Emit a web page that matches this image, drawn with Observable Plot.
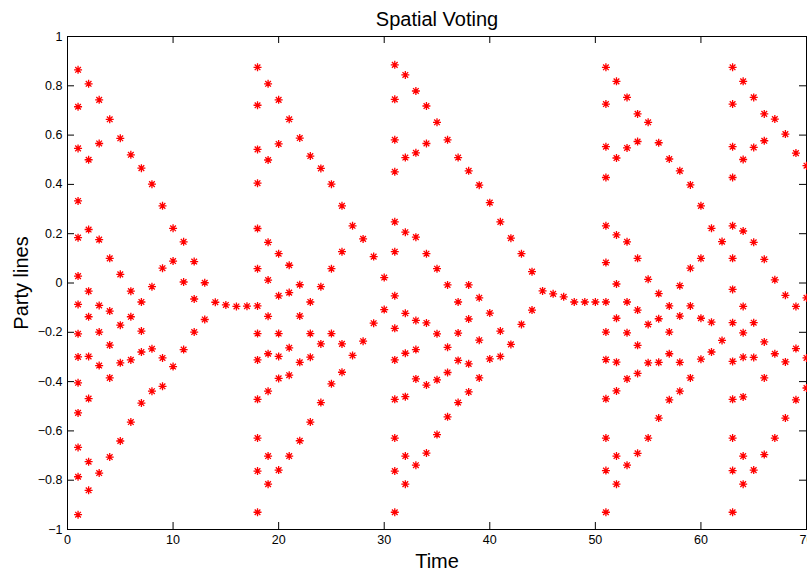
<!DOCTYPE html>
<html>
<head>
<meta charset="utf-8">
<script src="https://cdn.jsdelivr.net/npm/d3@7"></script>
<script src="https://cdn.jsdelivr.net/npm/@observablehq/plot@0.6"></script>
<style>
  html, body { margin: 0; padding: 0; background: white; overflow: hidden; }
</style>
</head>
<body>
<div id="chart"></div>
<script>
const titleText = "Spatial Voting";
const xLabel = "Time";
const yLabel = "Party lines";

const xTicks = [0, 10, 20, 30, 40, 50, 60, 70];
const xTickLabels = ["0", "10", "20", "30", "40", "50", "60", "70"];
const yTicks = [-1, -0.8, -0.6, -0.4, -0.2, 0, 0.2, 0.4, 0.6, 0.8, 1];
const yTickLabels = ["\u22121", "\u22120.8", "\u22120.6", "\u22120.4", "\u22120.2", "0", "0.2", "0.4", "0.6", "0.8", "1"];

const times = [1,2,3,4,5,6,7,8,9,10,11,12,13,14,15,16,17,18,19,20,21,22,23,24,25,26,27,28,29,30,31,32,33,34,35,36,37,38,39,40,41,42,43,44,45,46,47,48,49,50,51,52,53,54,55,56,57,58,59,60,61,62,63,64,65,66,67,68,69,70];

const partyLines = [
  [0.865, 0.715, 0.546, 0.333, 0.184, 0.028, -0.087, -0.206, -0.300, -0.405, -0.527, -0.667, -0.786, -0.940],
  [0.808, 0.500, 0.217, -0.033, -0.137, -0.298, -0.469, -0.725, -0.841],
  [0.743, 0.566, 0.176, -0.091, -0.199, -0.335, -0.771],
  [0.664, 0.100, -0.114, -0.252, -0.385, -0.706],
  [0.587, 0.035, -0.171, -0.324, -0.641],
  [0.520, -0.033, -0.137, -0.312, -0.564],
  [0.466, -0.077, -0.195, -0.280, -0.487],
  [0.401, -0.015, -0.267, -0.439],
  [0.313, 0.060, -0.304, -0.419],
  [0.222, 0.089, -0.339],
  [0.167, 0.004, -0.270],
  [0.087, -0.065, -0.199],
  [0.001, -0.148],
  [-0.078],
  [-0.089],
  [-0.095],
  [-0.094],
  [0.875, 0.721, 0.542, 0.405, 0.221, 0.058, -0.093, -0.205, -0.312, -0.472, -0.629, -0.763, -0.930],
  [0.808, 0.499, 0.165, 0.012, -0.135, -0.287, -0.439, -0.702, -0.816],
  [0.743, 0.564, 0.119, -0.052, -0.205, -0.298, -0.387, -0.759],
  [0.664, 0.072, -0.039, -0.263, -0.374, -0.702],
  [0.588, -0.007, -0.134, -0.322, -0.640],
  [0.515, -0.077, -0.205, -0.301, -0.564],
  [0.465, -0.015, -0.247, -0.485],
  [0.401, 0.058, -0.205, -0.409],
  [0.313, 0.127, -0.247, -0.362],
  [0.232, -0.294],
  [0.179, -0.236],
  [0.107, -0.163],
  [0.022, -0.108],
  [0.885, 0.745, 0.581, 0.451, 0.248, 0.127, -0.052, -0.184, -0.312, -0.472, -0.629, -0.763, -0.930],
  [0.844, 0.509, 0.206, -0.123, -0.285, -0.461, -0.702, -0.816],
  [0.779, 0.528, 0.186, -0.152, -0.270, -0.389, -0.739],
  [0.718, 0.566, 0.119, -0.162, -0.414, -0.690],
  [0.652, 0.058, -0.206, -0.393, -0.615],
  [0.581, -0.008, -0.261, -0.363, -0.543],
  [0.509, -0.077, -0.203, -0.314, -0.485],
  [0.455, -0.008, -0.146, -0.328, -0.442],
  [0.397, -0.060, -0.232, -0.385],
  [0.326, -0.122, -0.308],
  [0.248, -0.195, -0.298],
  [0.182, -0.249],
  [0.119, -0.168],
  [0.046, -0.110],
  [-0.032],
  [-0.044],
  [-0.056],
  [-0.077],
  [-0.077],
  [-0.077],
  [0.875, 0.726, 0.553, 0.428, 0.232, 0.083, -0.077, -0.199, -0.311, -0.470, -0.629, -0.761, -0.930],
  [0.818, 0.507, 0.195, -0.004, -0.143, -0.321, -0.438, -0.702, -0.816],
  [0.753, 0.548, 0.167, -0.077, -0.202, -0.389, -0.739],
  [0.686, 0.574, 0.100, -0.110, -0.253, -0.367, -0.691],
  [0.652, 0.015, -0.168, -0.324, -0.629],
  [0.569, -0.043, -0.145, -0.322, -0.548],
  [0.503, -0.093, -0.199, -0.287, -0.474],
  [0.455, -0.011, -0.134, -0.322, -0.439],
  [0.398, 0.060, -0.093, -0.385],
  [0.313, 0.100, -0.143, -0.309],
  [0.222, -0.159, -0.280],
  [0.168, -0.233],
  [0.875, 0.726, 0.553, 0.428, 0.232, 0.100, -0.026, -0.161, -0.318, -0.472, -0.629, -0.761, -0.930],
  [0.818, 0.501, 0.211, -0.095, -0.202, -0.301, -0.462, -0.702, -0.816],
  [0.753, 0.550, 0.165, -0.161, -0.302, -0.759],
  [0.686, 0.577, 0.096, -0.239, -0.385, -0.696],
  [0.665, 0.013, -0.287, -0.629],
  [0.604, -0.050, -0.320, -0.548],
  [0.527, -0.095, -0.266, -0.474],
  [0.476, -0.060, -0.304, -0.426]
];

// flatten into a table for Plot
const points = [];
times.forEach((t, i) => partyLines[i].forEach(v => points.push({t, v})));

// MATLAB-style '*' marker: plus + cross
const asterisk = {
  draw(context, size) {
    const r = Math.sqrt(size / Math.PI);
    const d = r * Math.SQRT1_2;
    context.moveTo(-r, 0); context.lineTo(r, 0);
    context.moveTo(0, -r); context.lineTo(0, r);
    context.moveTo(-d, -d); context.lineTo(d, d);
    context.moveTo(-d, d); context.lineTo(d, -d);
  }
};

const W = 807, H = 572;
const mL = 67, mR = 1, mT = 36, mB = 43;
const fw = W - mL - mR, fh = H - mT - mB;
const tickLen = 7;
const font = "'Liberation Sans', Arial, Helvetica, sans-serif";

const chart = Plot.plot({
  width: W,
  height: H,
  marginLeft: mL,
  marginRight: mR,
  marginTop: mT,
  marginBottom: mB,
  style: {fontFamily: font, fontSize: "13px", background: "white", color: "black", overflow: "visible"},
  x: {domain: [0, 70]},
  y: {domain: [-1, 1]},
  marks: [
    Plot.frame({stroke: "black", strokeWidth: 1}),
    // inward ticks on all four sides
    Plot.tickX(xTicks, {x: d => d, insetTop: fh - tickLen, stroke: "black"}),
    Plot.tickX(xTicks, {x: d => d, insetBottom: fh - tickLen, stroke: "black"}),
    Plot.tickY(yTicks, {y: d => d, insetRight: fw - tickLen, stroke: "black"}),
    Plot.tickY(yTicks, {y: d => d, insetLeft: fw - tickLen, stroke: "black"}),
    Plot.axisX({ticks: xTicks, tickFormat: d => xTickLabels[xTicks.indexOf(d)], tickSize: 0, tickPadding: 6, fontSize: 12.5, label: null}),
    Plot.axisY({ticks: yTicks, tickFormat: d => yTickLabels[yTicks.indexOf(d)], tickSize: 0, tickPadding: 5, fontSize: 12.5, label: null}),
    Plot.dot(points, {x: "t", y: "v", symbol: asterisk, r: 4, stroke: "#ff0000", fill: "none", strokeWidth: 1.3}),
    Plot.text([titleText], {frameAnchor: "top", textAnchor: "middle", lineAnchor: "bottom", dy: -11, fontSize: 20}),
    Plot.text([xLabel], {frameAnchor: "bottom", textAnchor: "middle", lineAnchor: "bottom", dy: 38, fontSize: 20}),
    Plot.text([yLabel], {frameAnchor: "left", textAnchor: "middle", lineAnchor: "bottom", rotate: -90, dx: -40, fontSize: 20})
  ]
});
document.getElementById("chart").appendChild(chart);
</script>
</body>
</html>
